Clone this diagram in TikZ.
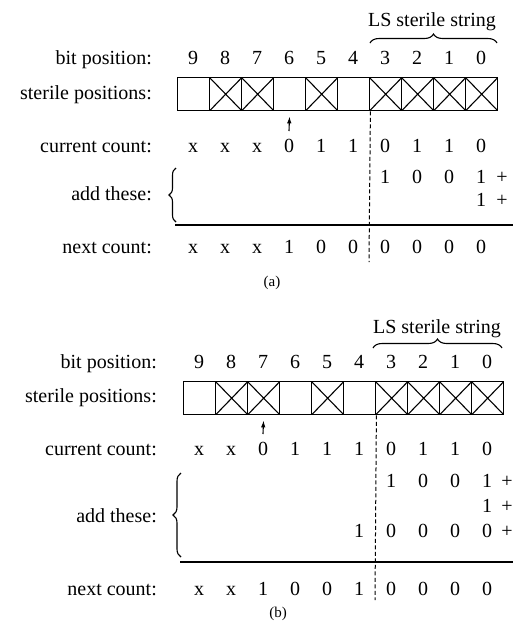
\documentclass[tikz,border=0pt]{standalone}
\usepackage{fontspec}
\setmainfont{Liberation Serif}
\usetikzlibrary{decorations.pathreplacing,arrows.meta}

\begin{document}
\begin{tikzpicture}[
    x=1pt, y=-1pt,
    declare function={
        xa(\b) = 193 + 32*(9-\b);
        xb(\b) = 199 + 32*(9-\b);
    },
    every node/.style={font=\fontsize{20}{24}\selectfont, inner sep=0pt},
    lbl/.style={anchor=base east},
    dig/.style={anchor=base},
    capt/.style={anchor=base, font=\fontsize{15}{18}\selectfont},
    cell/.style={draw, line width=1.4pt, minimum width=32pt, minimum height=33pt, anchor=north west},
    sterile/.style={cell, path picture={
        \draw[line width=1.1pt] (path picture bounding box.north west) -- (path picture bounding box.south east)
                                (path picture bounding box.north east) -- (path picture bounding box.south west);}},
    brc/.style={decorate, decoration={brace, amplitude=#1}, line width=1.1pt},
    marker/.style={-{Latex[length=7pt,width=4.5pt]}, line width=1.1pt, shorten >=5pt},
    split/.style={dash pattern=on 4pt off 2.5pt, line width=1pt},
    rule/.style={line width=1.3pt},
]
    \useasboundingbox (0,0) rectangle (513,622);

    % ---- (a) ----
    \node[dig] (als) at (432,26) {LS sterile string};
    \draw[brc=9pt] (370,43) -- (497,43);

    \node[lbl] (abitlbl) at (152,64) {bit position:};
    \node[lbl] (asterlbl) at (152,99) {sterile positions:};
    \node[lbl] (acurlbl) at (152,152) {current count:};
    \node[lbl] (addlbl) at (152,200) {add these:};
    \node[lbl] (anextlbl) at (152,253) {next count:};

    \foreach \b in {9,...,0}
        \node[dig] (abit\b) at ({xa(\b)},64) {\b};

    \foreach \b/\s in {9/cell,8/sterile,7/sterile,6/cell,5/sterile,4/cell,3/sterile,2/sterile,1/sterile,0/sterile}
        \node[\s] (a\b) at ({177+32*(9-\b)},77) {};

    \coordinate (atail) at (289,131);
    \draw[marker] (atail) -- (a6.south);

    \foreach \b/\v in {9/x,8/x,7/x,6/0,5/1,4/1,3/0,2/1,1/1,0/0}
        \node[dig] (acur\b) at ({xa(\b)},152) {\v};

    \foreach \b/\v in {3/1,2/0,1/0,0/1}
        \node[dig] (aone\b) at ({xa(\b)},183) {\v};
    \node[dig] (aoneplus) at (502,183) {+};
    \node[dig] (atwo0) at ({xa(0)},206) {1};
    \node[dig] (atwoplus) at (502,206) {+};

    \coordinate (abtop) at (176,168);
    \coordinate (abbot) at (176,222);
    \draw[brc=7pt] (abbot) -- (abtop);

    \coordinate (arulel) at (175,225);
    \coordinate (aruler) at (513,225);
    \draw[rule] (arulel) -- (aruler);

    \foreach \b/\v in {9/x,8/x,7/x,6/1,5/0,4/0,3/0,2/0,1/0,0/0}
        \node[dig] (anext\b) at ({xa(\b)},253) {\v};

    \coordinate (adash) at (369,262);
    \draw[split] (a4.south east) -- (adash);

    \node[capt] (capa) at (272,286) {(a)};

    % ---- (b) ----
    \node[dig] (bls) at (437,333) {LS sterile string};
    \draw[brc=9pt] (373,348) -- (502,348);

    \node[lbl] (bbitlbl) at (157,368) {bit position:};
    \node[lbl] (bsterlbl) at (157,402) {sterile positions:};
    \node[lbl] (bcurlbl) at (157,455) {current count:};
    \node[lbl] (bddlbl) at (157,522) {add these:};
    \node[lbl] (bnextlbl) at (157,595) {next count:};

    \foreach \b in {9,...,0}
        \node[dig] (bbit\b) at ({xb(\b)},368) {\b};

    \foreach \b/\s in {9/cell,8/sterile,7/sterile,6/cell,5/sterile,4/cell,3/sterile,2/sterile,1/sterile,0/sterile}
        \node[\s] (b\b) at ({183+32*(9-\b)},381) {};

    \coordinate (btail) at (263,434);
    \draw[marker] (btail) -- (b7.south);

    \foreach \b/\v in {9/x,8/x,7/0,6/1,5/1,4/1,3/0,2/1,1/1,0/0}
        \node[dig] (bcur\b) at ({xb(\b)},455) {\v};

    \foreach \b/\v in {3/1,2/0,1/0,0/1}
        \node[dig] (bone\b) at ({xb(\b)},487) {\v};
    \node[dig] (boneplus) at (507,487) {+};
    \node[dig] (btwo0) at ({xb(0)},512) {1};
    \node[dig] (btwoplus) at (507,512) {+};
    \foreach \b/\v in {4/1,3/0,2/0,1/0,0/0}
        \node[dig] (bthree\b) at ({xb(\b)},537) {\v};
    \node[dig] (bthreeplus) at (507,537) {+};

    \coordinate (bbtop) at (181,473);
    \coordinate (bbbot) at (181,557);
    \draw[brc=8pt] (bbbot) -- (bbtop);

    \coordinate (brulel) at (180,562);
    \coordinate (bruler) at (513,562);
    \draw[rule] (brulel) -- (bruler);

    \foreach \b/\v in {9/x,8/x,7/1,6/0,5/0,4/1,3/0,2/0,1/0,0/0}
        \node[dig] (bnext\b) at ({xb(\b)},595) {\v};

    \coordinate (bdash) at (375,600);
    \draw[split] (b4.south east) -- (bdash);

    \node[capt] (capb) at (278,617) {(b)};
\end{tikzpicture}
\end{document}
